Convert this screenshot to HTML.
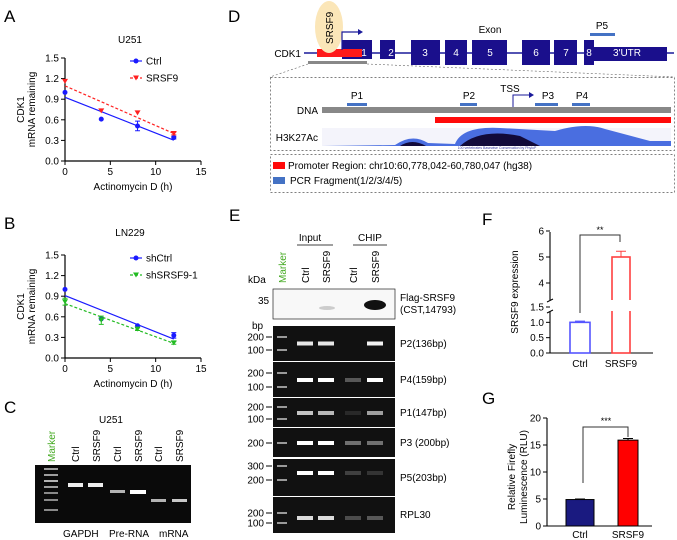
<!DOCTYPE html>
<html><head><meta charset="utf-8">
<style>
html,body{margin:0;padding:0;background:#fff;}
svg{display:block;font-family:"Liberation Sans",Arial,sans-serif;}
</style></head>
<body>
<svg id="fig" width="677" height="540" viewBox="0 0 677 540" xmlns="http://www.w3.org/2000/svg">
<g font-size="17" fill="#000">
<text x="4" y="22">A</text>
<text x="4" y="229">B</text>
<text x="4" y="413">C</text>
<text x="228" y="22">D</text>
<text x="229" y="221">E</text>
<text x="482" y="225">F</text>
<text x="482" y="404">G</text>
</g>
<g id="chartA"></g>
<g id="chartB"></g>
<g id="chartF"></g>
<g id="chartG"></g>

<g>
<text x="111" y="423" font-size="10" text-anchor="middle">U251</text>
<g font-size="10">
<text transform="translate(55,462) rotate(-90)" fill="#44aa22">Marker</text>
<text transform="translate(79,462) rotate(-90)">Ctrl</text>
<text transform="translate(100,462) rotate(-90)">SRSF9</text>
<text transform="translate(121,462) rotate(-90)">Ctrl</text>
<text transform="translate(142,462) rotate(-90)">SRSF9</text>
<text transform="translate(162,462) rotate(-90)">Ctrl</text>
<text transform="translate(183,462) rotate(-90)">SRSF9</text>
</g>
<rect x="35" y="465" width="156" height="58" fill="#0a0a0a"/>
<g fill="#ddd">
<rect x="44" y="468" width="14" height="2" opacity="0.7"/><rect x="44" y="474" width="14" height="2" opacity="0.7"/>
<rect x="44" y="480" width="14" height="2" opacity="0.8"/><rect x="44" y="486" width="14" height="2" opacity="0.7"/>
<rect x="44" y="492" width="14" height="2" opacity="0.6"/><rect x="44" y="499" width="14" height="2" opacity="0.6"/>
<rect x="44" y="509" width="14" height="2" opacity="0.6"/>
<rect x="68" y="483" width="15" height="4" fill="#eee"/><rect x="88" y="483" width="15" height="4" fill="#eee"/>
<rect x="110" y="490" width="15" height="3" opacity="0.8"/><rect x="130" y="490" width="16" height="4" fill="#fff"/>
<rect x="151" y="499" width="15" height="3" opacity="0.8"/><rect x="172" y="499" width="15" height="3" opacity="0.9"/>
</g>
<g font-size="10">
<text x="63" y="537">GAPDH</text><text x="109" y="537">Pre-RNA</text><text x="159" y="537">mRNA</text>
</g>
</g>

<g>
<text x="301" y="57" font-size="10" text-anchor="end">CDK1</text>
<line x1="304" y1="53" x2="674" y2="53" stroke="#1a1a9a" stroke-width="1.5"/>
<g fill="#1a0f8c">
<rect x="342" y="40" width="30" height="19"/><rect x="380" y="40" width="15" height="19"/>
<rect x="411" y="40" width="29" height="25"/><rect x="445" y="40" width="22" height="25"/>
<rect x="472" y="40" width="35" height="25"/><rect x="522" y="40" width="28" height="25"/>
<rect x="554" y="40" width="23" height="25"/><rect x="584" y="40" width="10" height="25"/>
<rect x="594" y="47" width="73" height="14"/>
</g>
<rect x="317" y="49" width="45" height="8" fill="#ff1a1a"/>
<ellipse cx="329" cy="27" rx="14" ry="26" fill="#fbe6b8"/>
<text transform="translate(333,44) rotate(-90)" font-size="10">SRSF9</text>
<path d="M342 50 V32 H360" fill="none" stroke="#1a1a9a" stroke-width="1.2"/><path d="M358 29 L363 32 L358 35Z" fill="#1a1a9a"/>
<g fill="#fff" font-size="10" text-anchor="middle">
<text x="364" y="56">1</text><text x="391" y="56">2</text><text x="425" y="56">3</text><text x="456" y="56">4</text>
<text x="490" y="56">5</text><text x="536" y="56">6</text><text x="566" y="56">7</text><text x="589" y="56">8</text><text x="627" y="56">3'UTR</text>
</g>
<text x="490" y="33" font-size="10" text-anchor="middle">Exon</text>
<text x="602" y="29" font-size="10" text-anchor="middle">P5</text>
<rect x="590" y="33" width="25" height="3" fill="#4472c4"/>
<rect x="308" y="61" width="59" height="3" fill="#888"/>
<path d="M308 64 L270 77 M367 64 L675 77" stroke="#666" stroke-width="0.6" stroke-dasharray="2,2" fill="none"/>
<rect x="270.5" y="77.5" width="404" height="73" fill="none" stroke="#555" stroke-width="0.7" stroke-dasharray="2,2"/>
<text x="318" y="114" font-size="10" text-anchor="end">DNA</text>
<rect x="322" y="107" width="349" height="6" fill="#888"/>
<rect x="435" y="117" width="236" height="6" fill="#ff0a0a"/>
<g font-size="10" text-anchor="middle">
<text x="357" y="99">P1</text><text x="469" y="99">P2</text><text x="548" y="99">P3</text><text x="582" y="99">P4</text><text x="510" y="92">TSS</text>
</g>
<g fill="#4472c4">
<rect x="347" y="103" width="20" height="3"/><rect x="460" y="103" width="17" height="3"/>
<rect x="535" y="103" width="23" height="3"/><rect x="572" y="103" width="18" height="3"/>
</g>
<path d="M513 107 V95 H530" fill="none" stroke="#1a1a9a" stroke-width="1"/><path d="M529 92 L534 95 L529 98Z" fill="#1a1a9a"/>
<text x="318" y="141" font-size="10" text-anchor="end">H3K27Ac</text>
<rect x="322" y="128" width="349" height="18" fill="#f4f4fb"/>
<path d="M322 146 L395 145 Q412 133 428 143 L455 144 Q462 126 500 128 L555 131 Q585 122 605 129 L650 141 L671 141 L671 146Z" fill="#4a6ee0"/>
<path d="M400 146 Q412 138 426 146Z M460 146 Q480 128 520 136 L540 146Z" fill="#120a3a"/>
<text x="497" y="149" font-size="3.5" fill="#3a3aa0" text-anchor="middle">100 vertebrates Basewise Conservation by PhyloP</text>
<rect x="270.5" y="154.5" width="404" height="38" fill="none" stroke="#555" stroke-width="0.7" stroke-dasharray="2,2"/>
<rect x="273" y="162" width="12" height="7" fill="#ff0a0a"/>
<text x="288" y="169" font-size="10">Promoter Region: chr10:60,778,042-60,780,047 (hg38)</text>
<rect x="273" y="177" width="12" height="7" fill="#4472c4"/>
<text x="290" y="184" font-size="10">PCR Fragment(1/2/3/4/5)</text>
</g>

<g id="panelE">
<text x="310" y="241" font-size="10" text-anchor="middle">Input</text>
<line x1="297" y1="245" x2="333" y2="245" stroke="#000" stroke-width="0.8"/>
<text x="370" y="241" font-size="10" text-anchor="middle">CHIP</text>
<line x1="353" y1="245" x2="387" y2="245" stroke="#000" stroke-width="0.8"/>
<g font-size="10">
<text transform="translate(286,283) rotate(-90)" fill="#44aa22">Marker</text>
<text transform="translate(309,283) rotate(-90)">Ctrl</text>
<text transform="translate(330,283) rotate(-90)">SRSF9</text>
<text transform="translate(357,283) rotate(-90)">Ctrl</text>
<text transform="translate(379,283) rotate(-90)">SRSF9</text>
<text x="248" y="283">kDa</text>
</g>
<rect x="273" y="289" width="122" height="30" fill="#f8f8f8" stroke="#222" stroke-width="0.7"/>
<ellipse cx="375" cy="305" rx="11" ry="5" fill="#111"/>
<ellipse cx="327" cy="308" rx="8" ry="2" fill="#ccc"/>
<text x="258" y="304" font-size="10">35</text>
<text x="252" y="329" font-size="10">bp</text>
<g font-size="10">
<text x="400" y="301">Flag-SRSF9</text><text x="400" y="313">(CST,14793)</text>
<text x="400" y="347">P2(136bp)</text><text x="400" y="383">P4(159bp)</text>
<text x="400" y="416">P1(147bp)</text><text x="400" y="446">P3 (200bp)</text>
<text x="400" y="481">P5(203bp)</text><text x="400" y="518">RPL30</text>
</g>
</g>
</svg>
<script>
const NS='http://www.w3.org/2000/svg';
function mk(parent,tag,attrs,text){const e=document.createElementNS(NS,tag);for(const k in attrs)e.setAttribute(k,attrs[k]);if(text!==undefined)e.textContent=text;parent.appendChild(e);return e;}

const timeA=[0,4,8,12];
const ctrlA=[1.0,0.61,0.51,0.34];
const ctrlAErr=[0,0,0.07,0.02];
const srsf9A=[1.16,0.73,0.70,0.40];
const srsf9AErr=[0,0,0,0.02];
const timeB=[0,4,8,12];
const shCtrlB=[1.0,0.57,0.47,0.33];
const shCtrlBErr=[0,0,0,0.04];
const shSrsf9B=[0.82,0.55,0.42,0.22];
const shSrsf9BErr=[0.05,0.06,0.02,0.02];
const xTicksAB=[0,5,10,15];
const yTicksAB=[0.0,0.3,0.6,0.9,1.2,1.5];
const catsF=['Ctrl','SRSF9'];
const valsF=[1.0,5.0];
const errF=[0.04,0.22];
const yTicksFLow=[0.0,0.5,1.0,1.5];
const yTicksFHigh=[4,5,6];
const catsG=['Ctrl','SRSF9'];
const valsG=[4.9,15.9];
const errG=[0.1,0.3];
const yTicksG=[0,5,10,15,20];

function linfit(x,y){const n=x.length;const mx=x.reduce((a,b)=>a+b)/n,my=y.reduce((a,b)=>a+b)/n;let sxy=0,sxx=0;for(let i=0;i<n;i++){sxy+=(x[i]-mx)*(y[i]-my);sxx+=(x[i]-mx)**2;}const s=sxy/sxx;return [my-s*mx,s];}

function scatterChart(g,o){
  const X=v=>65+v*(136/15), Y=v=>o.y0-v*(o.y0-o.y1)/1.5;
  mk(g,'text',{x:130,y:o.titleY,'font-size':10,'text-anchor':'middle'},o.title);
  mk(g,'line',{x1:65,y1:o.y1,x2:65,y2:o.y0,stroke:'#000','stroke-width':1.2});
  mk(g,'line',{x1:65,y1:o.y0,x2:201,y2:o.y0,stroke:'#000','stroke-width':1.2});
  yTicksAB.forEach(t=>{mk(g,'line',{x1:61,y1:Y(t),x2:65,y2:Y(t),stroke:'#000'});
    const tl=mk(g,'text',{x:59,y:Y(t)+3.5,'font-size':10,'text-anchor':'end'},t.toFixed(1));
    
    });
  xTicksAB.forEach(t=>{mk(g,'line',{x1:X(t),y1:o.y0,x2:X(t),y2:o.y0+4,stroke:'#000'});
    const tl=mk(g,'text',{x:X(t),y:o.y0+14,'font-size':10,'text-anchor':'middle'},t);
    
    });
  mk(g,'text',{x:133,y:o.y0+29,'font-size':10,'text-anchor':'middle'},'Actinomycin D (h)');
  const yc=(o.y0+o.y1)/2;
  mk(g,'text',{transform:`translate(24,${yc}) rotate(-90)`,'font-size':10,'text-anchor':'middle'},'CDK1');
  mk(g,'text',{transform:`translate(35,${yc}) rotate(-90)`,'font-size':10,'text-anchor':'middle'},'mRNA remaining');
  o.series.forEach((s,si)=>{
    const [b,m]=linfit(o.x,s.y);
    const ln=mk(g,'line',{x1:X(0),y1:Y(b),x2:X(12),y2:Y(b+m*12),stroke:s.c,'stroke-width':1.2,'stroke-dasharray':s.dash?'3,2':'none'});
    
    
    o.x.forEach((xv,i)=>{
      const cx=X(xv),cy=Y(s.y[i]);
      if(s.e[i]>0){mk(g,'path',{d:`M${cx} ${Y(s.y[i]+s.e[i])}V${Y(s.y[i]-s.e[i])}M${cx-2.5} ${Y(s.y[i]+s.e[i])}h5M${cx-2.5} ${Y(s.y[i]-s.e[i])}h5`,stroke:s.c,fill:'none'});}
      let p;
      if(s.tri){p=mk(g,'path',{d:`M${cx-3} ${cy-2.5}h6l-3 5z`,fill:s.c});}
      else{p=mk(g,'circle',{cx:cx,cy:cy,r:2.5,fill:s.c});}
      
      
    });
    const ly=o.legY+si*17;
    mk(g,'line',{x1:130,y1:ly,x2:142,y2:ly,stroke:s.c,'stroke-width':1.2,'stroke-dasharray':s.dash?'3,2':'none'});
    if(s.tri)mk(g,'path',{d:`M133 ${ly-2.5}h6l-3 5z`,fill:s.c});else mk(g,'circle',{cx:136,cy:ly,r:2.5,fill:s.c});
    const lt=mk(g,'text',{x:146,y:ly+3.5,'font-size':10},s.name);
    
    
  });
}
scatterChart(document.getElementById('chartA'),{title:'U251',titleY:43,y0:161,y1:58,legY:61,x:timeA,series:[
  {key:'ctrl',name:'Ctrl',y:ctrlA,e:ctrlAErr,c:'#1a1aff',tri:false,dash:false},
  {key:'srsf9',name:'SRSF9',y:srsf9A,e:srsf9AErr,c:'#ff2020',tri:true,dash:true}]});
scatterChart(document.getElementById('chartB'),{title:'LN229',titleY:236,y0:358,y1:255,legY:258,x:timeB,series:[
  {key:'shctrl',name:'shCtrl',y:shCtrlB,e:shCtrlBErr,c:'#1a1aff',tri:false,dash:false},
  {key:'shsrsf9',name:'shSRSF9-1',y:shSrsf9B,e:shSrsf9BErr,c:'#22bb22',tri:true,dash:true}]});

(function(){
  const g=document.getElementById('chartF');
  const Y=v=>v<=1.5?353-v*(353-307)/1.5:283-(v-4)*(283-257);
  const xs=[580,621], w=[20,18], cols=['#5555ff','#ff4040'];
  mk(g,'path',{d:'M550 232V300M550 311V353H653',stroke:'#000',fill:'none','stroke-width':1.1});
  mk(g,'path',{d:'M547 302l6-3M547 313l6-3',stroke:'#000'});
  yTicksFLow.concat(yTicksFHigh).forEach(t=>{mk(g,'line',{x1:546,y1:Y(t),x2:550,y2:Y(t),stroke:'#000'});
    const tl=mk(g,'text',{x:544,y:Y(t)+3.5,'font-size':10,'text-anchor':'end'},t<4?t.toFixed(1):t);
    
    });
  catsF.forEach((c,i)=>{
    const top=Y(valsF[i]);
    const b=mk(g,'rect',{x:xs[i]-w[i]/2,y:top,width:w[i],height:353-top,fill:'none',stroke:cols[i],'stroke-width':1.6});
    
    
    if(valsF[i]>1.5)mk(g,'rect',{x:xs[i]-w[i]/2-2,y:300,width:w[i]+4,height:11,fill:'#fff'});
    mk(g,'path',{d:`M${xs[i]} ${top}V${Y(valsF[i]+errF[i])}M${xs[i]-5} ${Y(valsF[i]+errF[i])}h10`,stroke:i?'#ff4040':'#5555ff',fill:'none'});
    mk(g,'text',{x:xs[i],y:367,'font-size':10,'text-anchor':'middle'},c);
  });
  mk(g,'path',{d:'M580 313V235H620V242',stroke:'#333',fill:'none'});
  mk(g,'text',{x:600,y:233,'font-size':9,'text-anchor':'middle'},'**');
  mk(g,'text',{transform:'translate(518,292) rotate(-90)','font-size':10,'text-anchor':'middle'},'SRSF9 expression');
})();

(function(){
  const g=document.getElementById('chartG');
  const Y=v=>526-v*(526-418)/20;
  const xs=[580,628], cols=['#1a1a80','#ff0000'];
  mk(g,'path',{d:'M547 418V526H652',stroke:'#000',fill:'none','stroke-width':1.1});
  yTicksG.forEach(t=>{mk(g,'line',{x1:543,y1:Y(t),x2:547,y2:Y(t),stroke:'#000'});
    const tl=mk(g,'text',{x:541,y:Y(t)+3.5,'font-size':10,'text-anchor':'end'},t);
    
    });
  catsG.forEach((c,i)=>{
    const top=Y(valsG[i]);
    const b=mk(g,'rect',{x:xs[i]-14+(i?4:0),y:top,width:i?20:28,height:526-top,fill:cols[i],stroke:'#000','stroke-width':1});
    
    
    mk(g,'path',{d:`M${xs[i]} ${top}V${Y(valsG[i]+errG[i])}M${xs[i]-5} ${Y(valsG[i]+errG[i])}h10`,stroke:'#000',fill:'none'});
    mk(g,'text',{x:xs[i],y:538,'font-size':10,'text-anchor':'middle'},c);
  });
  mk(g,'path',{d:'M583 483V427H628V437',stroke:'#333',fill:'none'});
  mk(g,'text',{x:606,y:424,'font-size':9,'text-anchor':'middle'},'***');
  mk(g,'text',{transform:'translate(515,477) rotate(-90)','font-size':10,'text-anchor':'middle'},'Relative Firefly');
  mk(g,'text',{transform:'translate(527,477) rotate(-90)','font-size':10,'text-anchor':'middle'},'Luminescence (RLU)');
})();

(function(){
  const g=document.getElementById('panelE');
  const gels=[
    {name:'p2',y:326,h:35,ticks:[['200',337],['100',350]],bands:[0.9,0.9,0,0.95]},
    {name:'p4',y:362,h:35,ticks:[['200',373],['100',387]],bands:[1,1,0.3,1]},
    {name:'p1',y:398,h:29,ticks:[['200',407],['100',419]],bands:[0.75,0.7,0.1,0.6]},
    {name:'p3',y:428,h:29,ticks:[['200',443]],bands:[1,1,0.4,0.4]},
    {name:'p5',y:459,h:37,ticks:[['300',466],['200',480]],bands:[1,1,0.2,0.15]},
    {name:'rpl30',y:497,h:36,ticks:[['200',513],['100',523]],bands:[0.85,0.85,0.25,0.3]}];
  const lanes=[305,326,353,375];
  gels.forEach(gl=>{
    const r=mk(g,'rect',{x:273,y:gl.y,width:122,height:gl.h,fill:'#111'});
    
    
    gl.ticks.forEach(t=>{mk(g,'text',{x:264,y:t[1]+3.5,'font-size':10,'text-anchor':'end'},t[0]);
      mk(g,'line',{x1:266,y1:t[1],x2:272,y2:t[1],stroke:'#000'});
      mk(g,'rect',{x:277,y:t[1]-1,width:10,height:2,fill:'#999'});});
    const by=gl.ticks.length>1?(gl.ticks[0][1]+gl.ticks[1][1])/2:gl.ticks[0][1];
    lanes.forEach((lx,i)=>{if(gl.bands[i]>0)mk(g,'rect',{x:lx-8,y:by-2,width:16,height:4,fill:'#fff',opacity:gl.bands[i]});});
  });
})();
</script>
</body></html>
